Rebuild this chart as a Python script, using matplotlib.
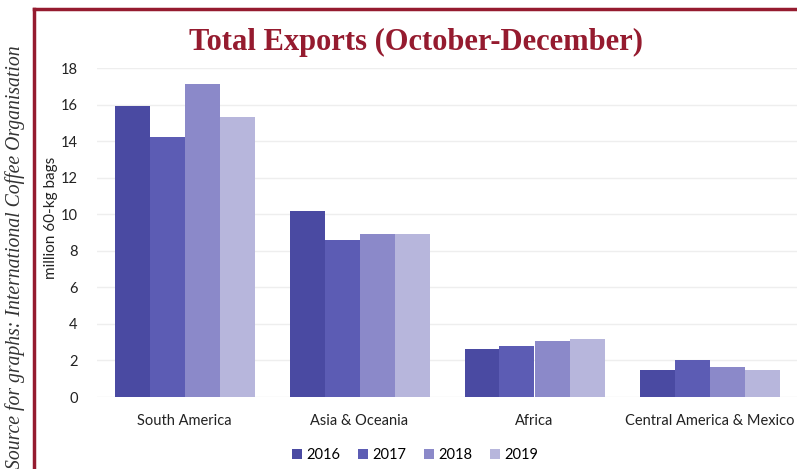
import numpy as np
import matplotlib.pyplot as plt
from matplotlib.lines import Line2D

# Data
regions = ['South America', 'Asia & Oceania', 'Africa', 'Central America & Mexico']
years = ['2016', '2017', '2018', '2019']
exp_2016 = [15.9, 10.2, 2.6, 1.5]
exp_2017 = [14.2, 8.6, 2.8, 2.0]
exp_2018 = [17.1, 8.9, 3.05, 1.65]
exp_2019 = [15.3, 8.9, 3.2, 1.45]
series = [exp_2016, exp_2017, exp_2018, exp_2019]
colors = ['#4a4aa2', '#5c5cb4', '#8b89c9', '#b7b6dc']

plt.rcParams['font.family'] = ['Lato', 'DejaVu Sans']

fig = plt.figure(figsize=(7.97, 4.69), dpi=100)
ax = fig.add_axes([97/797, 1 - 397/469, 1 - 97/797, (397 - 68)/469])

x = np.arange(len(regions))
w = 0.2
for i, (vals, c) in enumerate(zip(series, colors)):
    ax.bar(x + (i - 1.5)*w, vals, width=w, color=c, label=years[i], zorder=3)

ax.set_xlim(-0.5, len(regions) - 0.5)
ax.set_ylim(0, 18)
ax.set_yticks(np.arange(0, 19, 2))
ax.set_xticks(x)
ax.set_xticklabels(regions, fontsize=10.5, color='#222222')
ax.tick_params(axis='x', length=0, pad=12)
ax.tick_params(axis='y', length=0, pad=14, labelsize=10.5, labelcolor='#222222')
ax.grid(axis='y', color='#eeeeee', linewidth=1, zorder=0)
for s in ax.spines.values():
    s.set_visible(False)
ax.set_ylabel('million 60-kg bags', fontsize=11, color='#222222')
ax.yaxis.set_label_coords(-0.056, 0.545)

# legend
fig.legend(loc='center', bbox_to_anchor=(415/797, 1 - 455/469), ncol=4, frameon=False,
           fontsize=10.5, handlelength=0.7, handleheight=0.7, handletextpad=0.3,
           columnspacing=1.2)

# title and frame
red = '#951b2f'
fig.text(416/797, 1 - 42/469, 'Total Exports (October-December)', ha='center', va='center',
         fontsize=22, fontweight='bold', family='Liberation Serif', color=red)
fig.add_artist(Line2D([34/797, 1], [1 - 9/469, 1 - 9/469], color=red, linewidth=2.5))
fig.add_artist(Line2D([34/797, 34/797], [0, 1 - 9/469], color=red, linewidth=2.5))
fig.text(15/797, 1 - 45/469, 'Source for graphs: International Coffee Organisation',
         rotation=90, ha='center', va='top', fontsize=14.2, style='italic',
         family='Liberation Serif', color='#333333')

fig.savefig('out.png', dpi=100)
